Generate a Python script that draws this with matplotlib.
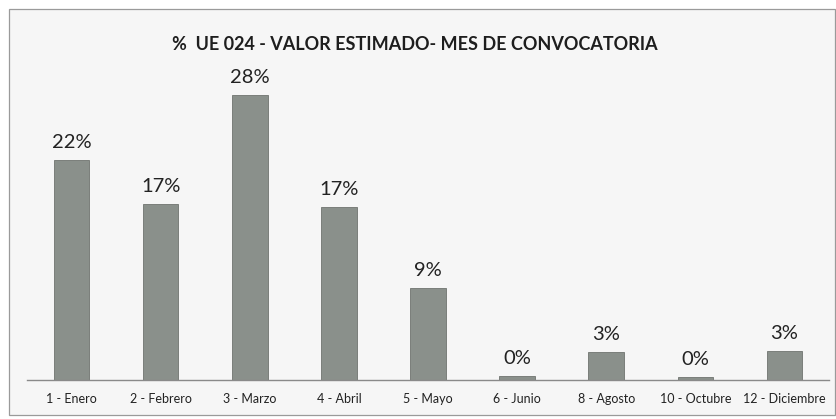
import matplotlib
matplotlib.use("Agg")
import matplotlib.pyplot as plt
from matplotlib.patches import Rectangle

categories = ["1 - Enero", "2 - Febrero", "3 - Marzo", "4 - Abril", "5 - Mayo",
              "6 - Junio", "8 - Agosto", "10 - Octubre", "12 - Diciembre"]
values = [21.8, 17.4, 28.2, 17.1, 9.1, 0.4, 2.8, 0.3, 2.9]
title = "%  UE 024 - VALOR ESTIMADO- MES DE CONVOCATORIA"

plt.rcParams['font.family'] = ['Lato', 'DejaVu Sans']

W, H = 837, 419
fig = plt.figure(figsize=(W / 100, H / 100), dpi=100)
fig.patch.set_facecolor("white")

# chart frame
fig.patches.append(Rectangle((9 / W, 1 - 415 / H), (835 - 9) / W, (415 - 9) / H,
                             transform=fig.transFigure, facecolor="#f6f6f6",
                             edgecolor="#9a9a9a", lw=0.9, zorder=-10))

ax = fig.add_axes([27 / W, (H - 380) / H, (829 - 27) / W, 303 / H])
ax.set_zorder(1)
ax.set_facecolor("none")
x = list(range(len(categories)))
bars = ax.bar(x, values, width=0.4, color="#8a908b", edgecolor="#6f746f", lw=0.6, zorder=2)
ax.set_xlim(-0.5, len(categories) - 0.5)
ax.set_ylim(0, 30)
for xi, v in zip(x, values):
    ax.text(xi, v + 0.9, f"{round(v)}%", ha="center", va="bottom",
            fontsize=14.5, color="#222222")

ax.set_xticks(x)
ax.set_xticklabels(categories, fontsize=9, color="#222222")
ax.tick_params(axis="x", length=0, pad=9)
ax.set_yticks([])
for s in ["left", "right", "top"]:
    ax.spines[s].set_visible(False)
ax.spines["bottom"].set_color("#8a8a8a")
ax.spines["bottom"].set_linewidth(1.0)

fig.text(415 / W, 1 - 45 / H, title, ha="center", va="center",
         fontsize=13, color="#1e1e1e", fontweight="bold")

fig.savefig("out.png", dpi=100)
